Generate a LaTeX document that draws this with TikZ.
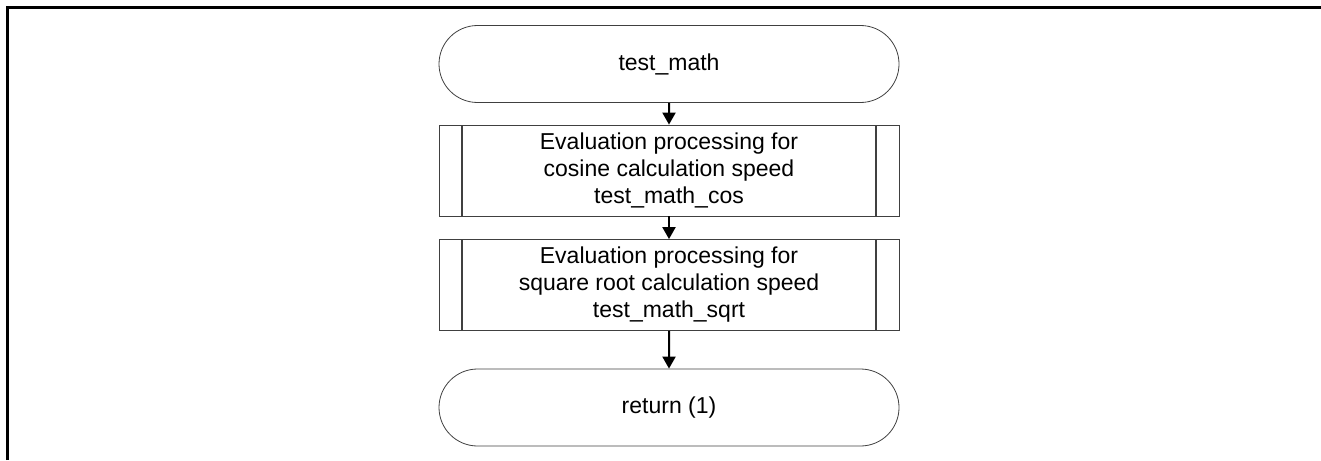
\documentclass[tikz,border=0pt]{standalone}
\usepackage{fontspec}
\setmainfont{Liberation Sans}
\usetikzlibrary{shapes.misc, arrows.meta}

\tikzset{
  term/.style={rounded rectangle, draw=black!75, line width=0.8pt,
    minimum width=460pt, minimum height=77pt, inner sep=0pt,
    font=\fontsize{23}{27}\selectfont},
  procbox/.style={rectangle, draw=black!75, line width=0.8pt,
    minimum width=460pt, minimum height=91pt, inner sep=0pt, align=center,
    font=\fontsize{23}{27}\selectfont,
    path picture={
      \draw[black!75, line width=1.2pt]
        ([xshift=23pt]path picture bounding box.north west) -- ([xshift=23pt]path picture bounding box.south west)
        ([xshift=-23pt]path picture bounding box.north east) -- ([xshift=-23pt]path picture bounding box.south east);
    }},
  flow/.style={-{Triangle[length=12pt, width=13pt]}, line width=2pt}
}

\begin{document}
\begin{tikzpicture}[x=1pt, y=-1pt]
    \useasboundingbox (0,0) rectangle (1321,460);
    %frame
    \draw[line width=3pt] (7.5,460) -- (7.5,7.5) -- (1321,7.5);
    %chart
    \node[term] at (669, 64) (start){test\_math};
    \node[procbox] at (669, 170.5) (cos){Evaluation processing for\\cosine calculation speed\\test\_math\_cos};
    \node[procbox] at (669, 285) (sqrt){Evaluation processing for\\square root calculation speed\\test\_math\_sqrt};
    \node[term] at (669, 407.5) (ret){return (1)};
    \draw[flow] (start) -- (cos);
    \draw[flow] (cos) -- (sqrt);
    \draw[flow] (sqrt) -- (ret);
\end{tikzpicture}
\end{document}
